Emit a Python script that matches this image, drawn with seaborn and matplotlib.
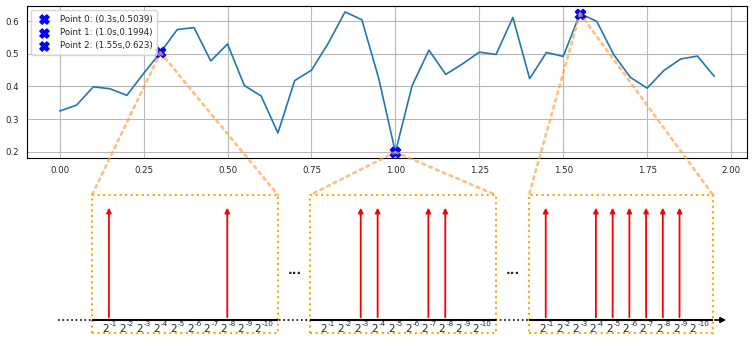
import numpy as np
import pandas as pd
import seaborn as sns
import matplotlib.pyplot as plt
from matplotlib.patches import ConnectionPatch, Rectangle, FancyArrowPatch
from matplotlib.lines import Line2D

sns.set_style('white')
plt.rcParams['font.family'] = ['DejaVu Sans']
plt.rcParams['font.size'] = 6.2

# 시계열 값 (0.05초 간격)
t = [round(0.05 * i, 2) for i in range(40)]
vals = [0.325, 0.343, 0.399, 0.393, 0.373, 0.440, 0.5039, 0.574, 0.580, 0.478,
        0.530, 0.403, 0.371, 0.258, 0.418, 0.450, 0.532, 0.628, 0.604, 0.426,
        0.1994, 0.403, 0.511, 0.437, 0.469, 0.505, 0.498, 0.611, 0.424, 0.504,
        0.492, 0.623, 0.599, 0.498, 0.428, 0.395, 0.449, 0.484, 0.493, 0.431]

# 선택된 점
pt_t = [0.3, 1.0, 1.55]
pt_v = [0.5039, 0.1994, 0.623]

# 각 점에서 켜진 비트 (2^-k)
bits = [[1, 8], [3, 4, 7, 8], [1, 4, 5, 6, 7, 8, 9]]
exps = ['-%d' % k for k in range(1, 11)]

df = pd.DataFrame({'t': t, 'v': vals})

W, H = 753, 346
fig = plt.figure(figsize=(W / 100, H / 100), dpi=100)

def fx(px):
    return px / W

def fy(py):
    return 1 - py / H

ax = fig.add_axes([fx(27), fy(158), fx(747) - fx(27), fy(6) - fy(158)])
sns.lineplot(data=df, x='t', y='v', ax=ax, color='#1f77b4', lw=1.2)
for i in range(3):
    ax.scatter(pt_t[i], pt_v[i], marker='X', color='blue', s=55, zorder=5,
               label='Point %d: (%ss,%s)' % (i, pt_t[i], pt_v[i]))
ax.set_xlim(-0.0975, 2.0475)
ax.set_ylim(0.1815, 0.646)
ax.set_xticks([0, 0.25, 0.5, 0.75, 1.0, 1.25, 1.5, 1.75, 2.0])
ax.set_xticklabels(['0.00', '0.25', '0.50', '0.75', '1.00', '1.25', '1.50', '1.75', '2.00'])
ax.set_yticks([0.2, 0.3, 0.4, 0.5, 0.6])
ax.set_xlabel('')
ax.set_ylabel('')
ax.grid(True, color='#b8b8b8', lw=0.8)
ax.tick_params(length=3, width=0.8, labelsize=6.2, pad=2.5)
for s in ax.spines.values():
    s.set_color('black')
    s.set_linewidth(0.8)
ax.legend(loc='upper left', fontsize=6.2, handletextpad=0.8, borderpad=0.5, markerscale=0.9)

# 아래 확대 박스
boxes = [(92, 278), (310, 496), (529, 713)]
box_top, box_bot = 195, 333
for i, (x0, x1) in enumerate(boxes):
    bx = fig.add_axes([fx(x0), fy(box_bot), fx(x1) - fx(x0), fy(box_top) - fy(box_bot)])
    bx.set_xlim(0, 11)
    bx.set_ylim(-0.113, 1.086)
    bx.patch.set_alpha(0)
    for s in bx.spines.values():
        s.set_visible(False)
    bx.add_patch(Rectangle((0, 0), 1, 1, transform=bx.transAxes, fill=False,
                           ec='orange', ls=':', lw=1.5, clip_on=False))
    bx.axhline(0, color='black', lw=1.5)
    for k in bits[i]:
        bx.annotate('', xy=(k, 1), xytext=(k, 0),
                    arrowprops=dict(arrowstyle='-|>', color='red', lw=1.3, mutation_scale=7))
    bx.set_yticks([])
    bx.set_xticks(range(1, 11))
    bx.set_xticklabels([])
    bx.tick_params(axis='x', length=4, width=0.6, color='#888888', pad=0)
    for k in range(1, 11):
        bx.text(k, -0.104, '2', ha='right', va='baseline', fontsize=7.5)
        bx.text(k + 0.06, -0.055, exps[k - 1], ha='left', va='baseline', fontsize=5.2)
    for corner in [(0, 1), (1, 1)]:
        con = ConnectionPatch(xyA=(pt_t[i], pt_v[i]), coordsA=ax.transData,
                              xyB=corner, coordsB=bx.transAxes,
                              color='#ffa040', alpha=0.65, ls=':', lw=2)
        fig.add_artist(con)

# 점선 축과 화살표
fig.add_artist(Line2D([fx(58), fx(713)], [fy(320), fy(320)], color='black', ls=':', lw=1.2))
fig.add_artist(FancyArrowPatch((fx(712), fy(320)), (fx(729), fy(320)), transform=fig.transFigure,
                               arrowstyle='-|>', mutation_scale=8, color='black', lw=1.2))
fig.text(fx(295), fy(270), '...', ha='center', va='center', fontsize=9, fontweight='bold')
fig.text(fx(513), fy(270), '...', ha='center', va='center', fontsize=9, fontweight='bold')

fig.savefig('out.png', dpi=100)
